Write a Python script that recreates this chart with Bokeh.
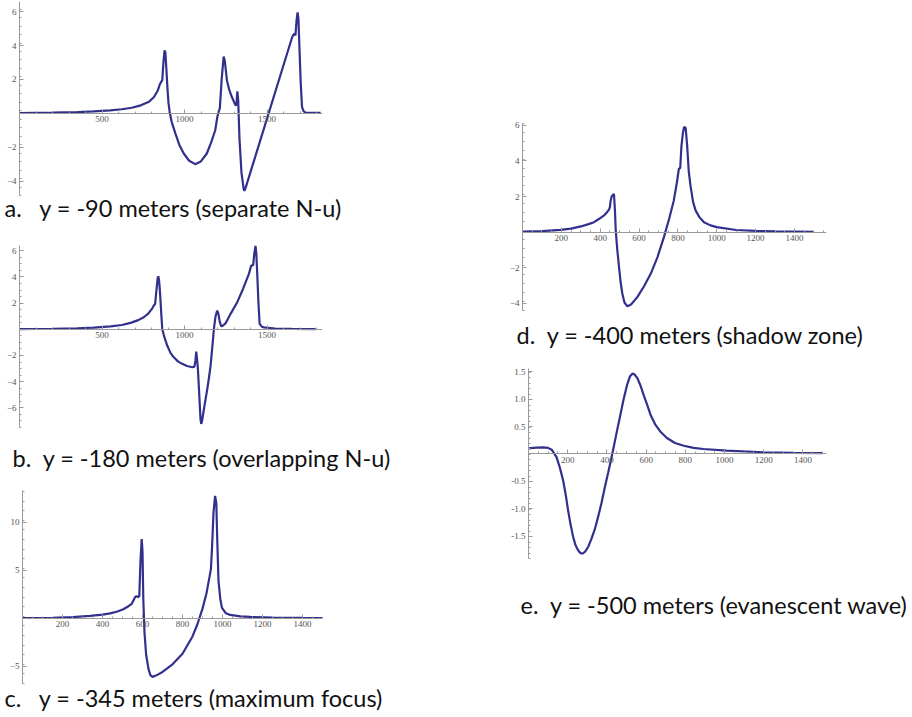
import numpy as np
from bokeh.plotting import figure
from bokeh.layouts import row, column, Spacer
from bokeh.models import FixedTicker, Range1d, NumeralTickFormatter
from bokeh.embed import file_html
from bokeh.resources import INLINE

# ---- data ----
A_X = [0, 200, 350, 450, 550, 620, 680, 735, 785, 815, 838, 850, 858, 865, 872, 879, 884, 890, 897, 903,
       910, 922, 945, 968, 995, 1028, 1065, 1098, 1135, 1162, 1186, 1199, 1207, 1214, 1225, 1237, 1244,
       1257, 1272, 1287, 1303, 1311, 1315, 1320, 1325, 1333, 1345, 1358, 1363, 1370, 1652, 1659, 1665,
       1672, 1679, 1685, 1690, 1697, 1704, 1712, 1722, 1732, 1790, 1825]
A_Y = [0.02, 0.04, 0.07, 0.11, 0.17, 0.24, 0.33, 0.47, 0.68, 0.96, 1.35, 1.7, 1.85, 1.95, 3.0, 3.72, 3.6,
       2.6, 1.4, 0.6, 0.08, -0.5, -1.2, -1.85, -2.37, -2.8, -3.0, -2.85, -2.37, -1.7, -1.0, -0.2, 0.1,
       0.3, 2.0, 3.35, 3.1, 1.94, 1.35, 0.96, 0.6, 0.45, 0.6, 1.3, 0.8, -1.5, -3.5, -4.45, -4.57, -4.4,
       4.49, 4.62, 4.7, 4.6, 5.5, 5.96, 5.6, 3.7, 1.8, 0.37, 0.12, 0.05, 0.03, 0.03]

B_X = [0, 200, 350, 450, 552, 620, 673, 720, 753, 780, 794, 805, 814, 822, 830, 837, 841, 846, 851, 855,
       860, 865, 878, 895, 915, 935, 960, 986, 1015, 1047, 1060, 1066, 1071, 1076, 1081, 1090, 1097, 1101,
       1106, 1120, 1138, 1148, 1158, 1168, 1178, 1188, 1198, 1205, 1213, 1222, 1230, 1248, 1280, 1319,
       1355, 1390, 1404, 1416, 1423, 1430, 1435, 1441, 1448, 1455, 1468, 1481, 1550, 1650, 1794]
B_Y = [0.02, 0.04, 0.08, 0.13, 0.23, 0.33, 0.49, 0.7, 0.92, 1.2, 1.43, 1.6, 1.81, 1.95, 3.0, 3.9, 4.05,
       3.7, 2.9, 2.06, 1.0, 0.03, -0.6, -1.24, -1.8, -2.14, -2.45, -2.64, -2.8, -2.9, -2.85, -2.4, -1.7,
       -2.3, -3.02, -5.2, -6.9, -7.22, -7.0, -5.9, -4.55, -3.7, -2.77, -1.4, 0.03, 1.0, 1.43, 1.2, 0.6,
       0.23, 0.25, 0.45, 1.2, 2.06, 3.1, 4.23, 4.86, 4.9, 5.8, 6.39, 5.8, 4.1, 2.0, 0.41, 0.2, 0.15, 0.06,
       0.03, 0.02]

C_X = [0, 150, 250, 338, 400, 438, 475, 504, 530, 546, 556, 563, 570, 578, 584, 590, 596, 600, 604, 610,
       618, 630, 640, 650, 670, 700, 750, 800, 850, 875, 900, 920, 935, 942, 948, 955, 963, 969, 974, 980,
       989, 997, 1015, 1038, 1090, 1138, 1250, 1400, 1500]
C_Y = [0.02, 0.05, 0.12, 0.25, 0.38, 0.5, 0.7, 0.94, 1.25, 1.5, 1.9, 2.2, 2.3, 2.2, 2.3, 6.0, 8.23, 7.0,
       2.0, -1.5, -3.75, -5.3, -5.95, -6.11, -5.95, -5.6, -4.8, -3.7, -1.9, -0.6, 1.0, 2.6, 4.3, 5.1, 7.5,
       11.0, 12.74, 12.0, 8.0, 3.89, 2.0, 1.1, 0.55, 0.34, 0.2, 0.14, 0.06, 0.03, 0.02]

D_X = [0, 100, 197, 250, 300, 340, 368, 395, 420, 437, 445, 450, 454, 459, 465, 471, 476, 480, 488, 497,
       505, 514, 525, 540, 560, 591, 625, 660, 695, 728, 755, 779, 795, 805, 812, 818, 826, 832, 840, 848,
       856, 865, 878, 891, 910, 934, 968, 1000, 1100, 1200, 1300, 1400, 1500]
D_Y = [0.03, 0.06, 0.13, 0.2, 0.32, 0.45, 0.56, 0.75, 0.94, 1.15, 1.26, 1.4, 1.78, 2.0, 2.1, 2.12, 1.2,
       0.1, -1.0, -1.97, -2.8, -3.46, -3.95, -4.17, -4.05, -3.65, -3.05, -2.34, -1.4, -0.28, 0.75, 1.78,
       2.8, 3.56, 3.6, 4.8, 5.6, 5.9, 5.85, 4.8, 3.4, 2.6, 1.7, 1.22, 0.85, 0.56, 0.38, 0.28, 0.12, 0.07,
       0.04, 0.03, 0.02]

E_X = [0, 40, 75, 100, 120, 143, 160, 177, 190, 202, 215, 228, 240, 253, 264, 275, 288, 304, 320, 338,
       355, 372, 390, 406, 420, 433, 449, 466, 484, 502, 518, 531, 541, 556, 571, 588, 605, 624, 646, 672,
       706, 747, 792, 842, 892, 1010, 1200, 1350, 1500]
E_Y = [0.1, 0.115, 0.12, 0.11, 0.07, -0.06, -0.25, -0.49, -0.75, -1.03, -1.3, -1.52, -1.67, -1.76, -1.81,
       -1.82, -1.79, -1.7, -1.56, -1.38, -1.15, -0.9, -0.6, -0.35, -0.12, 0.1, 0.38, 0.67, 0.98, 1.25,
       1.42, 1.47, 1.45, 1.38, 1.25, 1.07, 0.9, 0.7, 0.54, 0.41, 0.29, 0.2, 0.15, 0.11, 0.09, 0.06, 0.03,
       0.02, 0.015]

CAPTIONS = ["a. \u00a0\u00a0y = -90 meters (separate N-u)",
            "b. \u00a0y = -180 meters (overlapping N-u)",
            "c. \u00a0\u00a0y = -345 meters (maximum focus)",
            "d. \u00a0y = -400 meters (shadow zone)",
            "e. \u00a0y = -500 meters (evanescent wave)"]

X_TICKS_AB = [500, 1000, 1500]
X_TICKS_CDE = [200, 400, 600, 800, 1000, 1200, 1400]
Y_TICKS_A = [-4, -2, 2, 4, 6]
Y_TICKS_B = [-6, -4, -2, 2, 4, 6]
Y_TICKS_C = [-5, 5, 10]
Y_TICKS_D = [-4, -2, 2, 4, 6]
Y_TICKS_E = [-1.5, -1.0, -0.5, 0.5, 1.0, 1.5]

LINE = "#32308d"
AXIS = "#9a9a9a"
TICKTXT = "#555555"
CAPFONT = "Lato"


def minors(lo, hi, step, majors):
    vals = np.arange(lo, hi + step / 2, step)
    return [float(round(v, 6)) for v in vals if all(abs(v - m) > 1e-6 for m in majors) and abs(v) > 1e-6]


def panel(xs, ys, xr, yr, w, h, bl, bt, fw, fh, xmaj, xstep, ymaj, ystep, cap, off, stand, yfmt=None):
    bb = h - bt - fh
    br = w - bl - fw
    p = figure(width=w, height=h, x_range=Range1d(*xr), y_range=Range1d(*yr),
               output_backend="svg", toolbar_location=None, title_location="below",
               min_border_left=bl, min_border_right=br, min_border_top=bt, min_border_bottom=bb)
    p.line(xs, ys, line_color=LINE, line_width=2.2)
    p.outline_line_color = None
    p.xgrid.visible = False
    p.ygrid.visible = False
    p.background_fill_color = "white"
    p.border_fill_color = "white"

    xa = p.xaxis[0]
    xa.fixed_location = 0
    xa.ticker = FixedTicker(ticks=xmaj, minor_ticks=minors(0, xr[1], xstep, xmaj))
    ya = p.yaxis[0]
    ya.ticker = FixedTicker(ticks=ymaj, minor_ticks=minors(yr[0], yr[1], ystep, ymaj))
    if yfmt:
        ya.formatter = NumeralTickFormatter(format=yfmt)
    for ax in (xa, ya):
        ax.axis_line_color = AXIS
        ax.axis_line_width = 1
        ax.major_tick_line_color = AXIS
        ax.minor_tick_line_color = AXIS
        ax.major_tick_in = 4
        ax.major_tick_out = 0
        ax.minor_tick_in = 2
        ax.minor_tick_out = 0
        ax.major_label_text_font = "Liberation Serif"
        ax.major_label_text_font_size = "9px"
        ax.major_label_text_color = TICKTXT
        ax.major_label_standoff = 3

    p.title.text = cap
    p.title.align = "left"
    p.title.offset = off
    p.title.standoff = stand
    p.title.text_font = CAPFONT
    p.title.text_font_size = "23.5px"
    p.title.text_font_style = "normal"
    p.title.text_color = "#111111"
    return p


# left column
pa = panel(A_X, A_Y, (0, 1836), (-4.85, 6.6), 470, 232, 19, 1, 303, 194,
           X_TICKS_AB, 100, Y_TICKS_A, 0.5, CAPTIONS[0], -15, -8)
pb = panel(B_X, B_Y, (0, 1836), (-7.5, 6.4), 470, 253, 19, 13, 303, 182,
           X_TICKS_AB, 100, Y_TICKS_B, 0.5, CAPTIONS[1], -7, 28)
pc = panel(C_X, C_Y, (0, 1500), (-6.8, 13.3), 467, 232, 19, 5, 300, 193,
           X_TICKS_CDE, 50, Y_TICKS_C, 1, CAPTIONS[2], -18, -3)
# right column
pd = panel(D_X, D_Y, (0, 1565), (-4.4, 6.1), 442, 360, 52, 123, 304, 187,
           X_TICKS_CDE, 50, Y_TICKS_D, 0.5, CAPTIONS[3], -6, 16)
pe = panel(E_X, E_Y, (0, 1520), (-1.91, 1.56), 436, 357, 52, 8, 298, 190,
           X_TICKS_CDE, 50, Y_TICKS_E, 0.1, CAPTIONS[4], -8, 60, yfmt="0.0")

left = column(row(pa), row(pb), row(Spacer(width=3, height=232), pc), spacing=0)
right = column(row(pd), row(Spacer(width=6, height=357), pe), spacing=0)
layout = row(left, right, spacing=0)

open("out.html", "w").write(file_html(layout, INLINE))
